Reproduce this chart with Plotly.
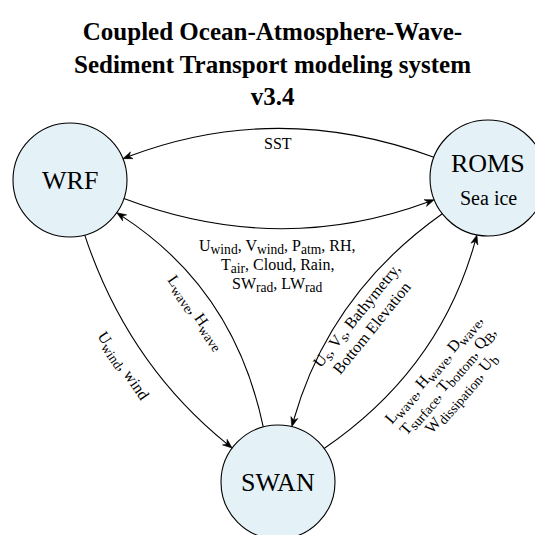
import math
import plotly.graph_objects as go

# ---- data -------------------------------------------------------------
title_lines = ["Coupled Ocean-Atmosphere-Wave-",
               "Sediment Transport modeling system",
               "v3.4"]

node_names = ["WRF", "ROMS", "SWAN"]
node_sublabels = ["", "Sea ice", ""]


def sub(s):
    return "<sub><span style='font-size:121%'>" + s + "</span></sub>"


edge_from = ["ROMS", "WRF", "WRF", "SWAN", "ROMS", "SWAN"]
edge_to = ["WRF", "ROMS", "SWAN", "WRF", "SWAN", "ROMS"]
edge_labels = [
    ["SST"],
    ["U" + sub("wind") + ", V" + sub("wind") + ", P" + sub("atm") + ", RH,",
     "T" + sub("air") + ", Cloud, Rain,",
     "SW" + sub("rad") + ", LW" + sub("rad")],
    ["U" + sub("wind") + ", wind"],
    ["L" + sub("wave") + ", H" + sub("wave")],
    ["U" + sub("s") + ", V" + sub("s") + ", Bathymetry,",
     "Bottom Elevation"],
    ["L" + sub("wave") + ", H" + sub("wave") + ", D" + sub("wave") + ",",
     "T" + sub("surface") + ", T" + sub("bottom") + ", Q" + sub("B") + ",",
     "W" + sub("dissipation") + ", U" + sub("b")],
]

# ---- layout geometry (pixel-like data space) -------------------------
W, H = 543, 535
OFF = 8  # page body margin
node_x = [70, 488, 278]
node_y = [180, 178, 482]
node_r = [57, 58, 57]
# attachment angles (degrees, screen coords) at start and end node
edge_a0 = [-159, 19, 75, -105, 142, -36]
edge_a1 = [-22, 158, -143.5, 35, -76, 101]
edge_bend = [58, 58, 38, 54, 46, 48]
label_pos = [(278, 143), (277, 266), (122, 366), (195, 313), (365, 322), (448, 382)]
label_angle = [0, 0, 56, 55, -51, -49]
label_gap = [19, 19, 19, 19, 18, 18.5]

FONT = "Liberation Serif"
FILL = "#e4f2f7"
EFS = 16

fig = go.Figure()
shapes = []
annotations = []

idx = {n: i for i, n in enumerate(node_names)}


def attach(name, ang):
    i = idx[name]
    a = math.radians(ang)
    return node_x[i] + node_r[i] * math.cos(a), node_y[i] + node_r[i] * math.sin(a)


HL, HW, NOTCH = 9.5, 3.6, 2.8

for k in range(len(edge_from)):
    x0, y0 = attach(edge_from[k], edge_a0[k])
    x1, y1 = attach(edge_to[k], edge_a1[k])
    dx, dy = x1 - x0, y1 - y0
    L = math.hypot(dx, dy)
    nx, ny = -dy / L, dx / L
    cx = (x0 + x1) / 2 + edge_bend[k] * nx
    cy = (y0 + y1) / 2 + edge_bend[k] * ny
    # tangent at the end
    tx, ty = x1 - cx, y1 - cy
    tl = math.hypot(tx, ty)
    ux, uy = tx / tl, ty / tl
    px, py = -uy, ux
    # end the line at the arrow notch
    ex, ey = x1 - (HL - NOTCH) * ux, y1 - (HL - NOTCH) * uy
    shapes.append(dict(type="path", xref="x", yref="y",
                       path=f"M {x0:.2f},{y0:.2f} Q {cx:.2f},{cy:.2f} {ex:.2f},{ey:.2f}",
                       line=dict(color="black", width=1.1)))
    bx, by = x1 - HL * ux, y1 - HL * uy
    lx1, ly1 = bx + HW * px, by + HW * py
    lx2, ly2 = bx - HW * px, by - HW * py
    shapes.append(dict(type="path", xref="x", yref="y",
                       path=(f"M {x1:.2f},{y1:.2f} L {lx1:.2f},{ly1:.2f} "
                             f"L {ex:.2f},{ey:.2f} L {lx2:.2f},{ly2:.2f} Z"),
                       fillcolor="black", line=dict(color="black", width=0.6)))
    # labels, one annotation per line
    cxl, cyl = label_pos[k]
    ang = math.radians(label_angle[k])
    perp = (-math.sin(ang), math.cos(ang))
    lines = edge_labels[k]
    n = len(lines)
    for j, t in enumerate(lines):
        off = (j - (n - 1) / 2) * label_gap[k]
        annotations.append(dict(x=cxl + off * perp[0], y=cyl + off * perp[1],
                                xref="x", yref="y", text=t,
                                showarrow=False, textangle=label_angle[k],
                                font=dict(family=FONT, size=EFS, color="black"),
                                xanchor="center", yanchor="middle"))

for i, n in enumerate(node_names):
    shapes.append(dict(type="circle", xref="x", yref="y",
                       x0=node_x[i] - node_r[i], x1=node_x[i] + node_r[i],
                       y0=node_y[i] - node_r[i], y1=node_y[i] + node_r[i],
                       fillcolor=FILL, line=dict(color="black", width=1.1),
                       layer="below"))
    if node_sublabels[i]:
        annotations.append(dict(x=node_x[i], y=node_y[i] - 15, xref="x", yref="y",
                                text=n, showarrow=False,
                                font=dict(family=FONT, size=26, color="black")))
        annotations.append(dict(x=node_x[i], y=node_y[i] + 20, xref="x", yref="y",
                                text=node_sublabels[i], showarrow=False,
                                font=dict(family=FONT, size=20, color="black")))
    else:
        annotations.append(dict(x=node_x[i], y=node_y[i], xref="x", yref="y",
                                text=n, showarrow=False,
                                font=dict(family=FONT, size=26, color="black")))

annotations.append(dict(x=272, y=64, xref="x", yref="y",
                        text="<b>" + "<br>".join(title_lines) + "</b>",
                        showarrow=False, xanchor="center", yanchor="middle",
                        font=dict(family=FONT, size=25, color="black")))

fig.update_layout(
    width=W - OFF, height=H - OFF, margin=dict(l=0, r=0, t=0, b=0),
    paper_bgcolor="white", plot_bgcolor="white",
    font=dict(family=FONT),
    xaxis=dict(range=[OFF, W], visible=False, fixedrange=True),
    yaxis=dict(range=[H, OFF], visible=False, fixedrange=True),
    shapes=shapes, annotations=annotations, showlegend=False,
)

fig.write_html("out.html")
